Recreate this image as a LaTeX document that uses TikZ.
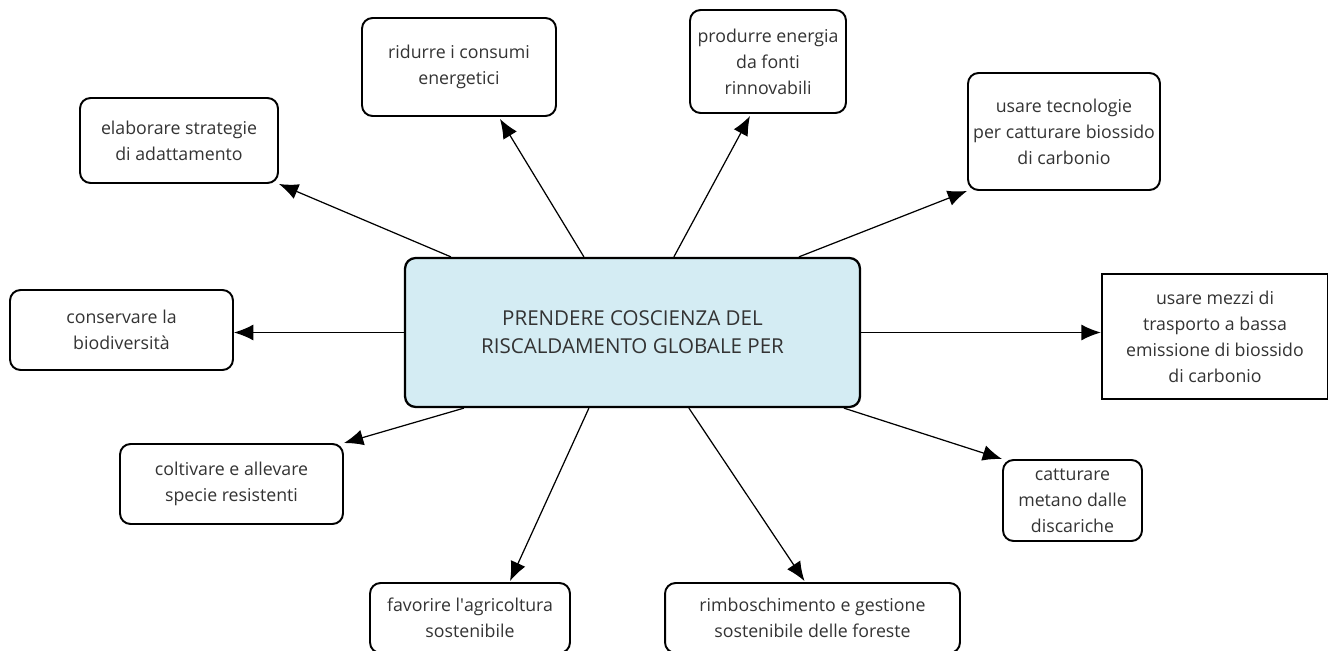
\documentclass[tikz,border=0pt]{standalone}
\usepackage{fontspec}
\setmainfont{Open Sans}
\usetikzlibrary{arrows.meta,calc,positioning}
\definecolor{coreblue}{HTML}{D4ECF3}
\definecolor{ink}{HTML}{333333}

\begin{document}
\begin{tikzpicture}[x=0.02cm,y=-0.02cm,>={Latex[length=11pt,width=9pt]},
	idea/.style={draw,line width=1.1pt,rounded corners=6pt,fill=white,align=center,text=ink,inner sep=0pt,font=\fontsize{10.1}{14.8}\selectfont},
	core/.style={idea,fill=coreblue,line width=1.3pt,font=\fontsize{11.7}{15.9}\selectfont},
	link/.style={->,line width=0.7pt},
	]
	\useasboundingbox (0,0) rectangle (1328,651);

	\node[core,minimum width=9.1cm,minimum height=2.98cm] (core) at (632.5,332.5) {PRENDERE COSCIENZA DEL\\RISCALDAMENTO GLOBALE PER};

	\node[idea,minimum width=3.96cm,minimum height=1.7cm] (adatta) at (179,140.5) {elaborare strategie\\di adattamento};
	\node[idea,minimum width=3.88cm,minimum height=1.96cm] (consumi) at (459,67) {ridurre i consumi\\energetici};
	\node[idea,minimum width=3.12cm,minimum height=2.06cm] (rinnova) at (768,61.5) {produrre energia\\da fonti\\rinnovabili};
	\node[idea,minimum width=3.84cm,minimum height=2.34cm] (cattura) at (1064,131.5) {usare tecnologie\\per catturare biossido\\di carbonio};
	\node[idea,minimum width=4.46cm,minimum height=1.6cm] (biodiv) at (121.5,330) {conservare la\\biodiversità};
	\node[idea,rounded corners=0pt,line width=1.4pt,minimum width=4.52cm,minimum height=2.5cm] (mezzi) at (1215,336.5) {usare mezzi di\\trasporto a bassa\\emissione di biossido\\di carbonio};
	\node[idea,minimum width=4.46cm,minimum height=1.6cm] (specie) at (231.5,484) {coltivare e allevare\\specie resistenti};
	\node[idea,minimum width=2.78cm,minimum height=1.62cm] (metano) at (1072.5,500.5) {catturare\\metano dalle\\discariche};
	\node[idea,minimum width=4.0cm,minimum height=1.4cm] (agri) at (470,618) {favorire l\textquotesingle agricoltura\\sostenibile};
	\node[idea,minimum width=5.9cm,minimum height=1.4cm] (foreste) at (812.5,618) {rimboschimento e gestione\\sostenibile delle foreste};

	\draw[link] ($(core.north west)+(47,0)$) to (adatta.south east);
	\draw[link] ($(core.north west)+(180,0)$) to ($(consumi.south)+(41,2)$);
	\draw[link] ($(core.north west)+(270,0)$) to ($(rinnova.south)+(-18,2)$);
	\draw[link] ($(core.north west)+(395,0)$) to (cattura.south west);
	\draw[link] (core.west) to (core.west -| biodiv.east);
	\draw[link] (core.east) to (core.east -| mezzi.west);
	\draw[link] ($(core.south west)+(60,0)$) to (specie.north east);
	\draw[link] ($(core.south west)+(185,0)$) to ($(agri.north)+(40,-1)$);
	\draw[link] ($(core.south west)+(285,0)$) to ($(foreste.north)+(-8,-1)$);
	\draw[link] ($(core.south west)+(440,0)$) to (metano.north west);

\end{tikzpicture}
\end{document}
